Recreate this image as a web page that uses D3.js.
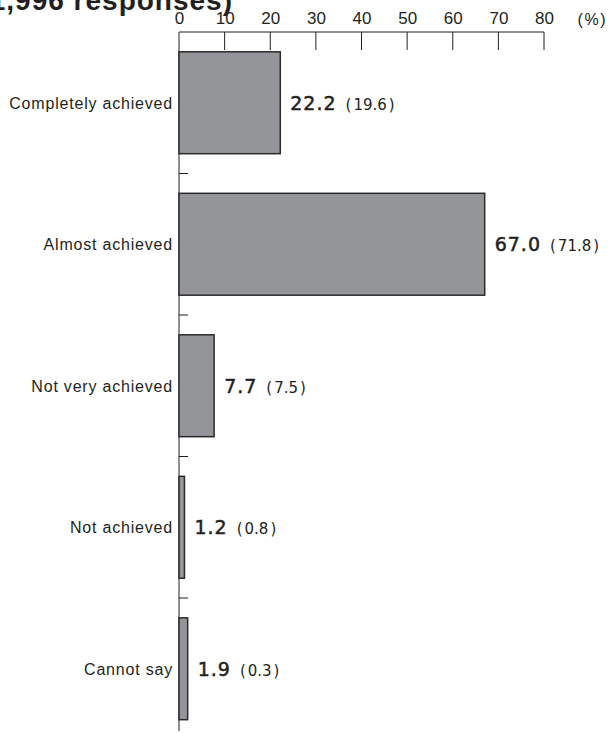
<!DOCTYPE html>
<html><head><meta charset="utf-8">
<script src="https://cdn.jsdelivr.net/npm/d3@7"></script>
<style>body{margin:0;background:#fff}svg{display:block;font-family:"Liberation Sans",Arial,sans-serif}</style>
</head><body><svg id="c" width="612" height="733"></svg>
<script>
const categories = ["Completely achieved","Almost achieved","Not very achieved","Not achieved","Cannot say"];
const values = [22.2, 67.0, 7.7, 1.2, 1.9];
const previous = ["19.6","71.8","7.5","0.8","0.3"];
const tickValues = [0,10,20,30,40,50,60,70,80];

const svg = d3.select("#c");
const ink = "#231f20";
const x = d3.scaleLinear().domain([0,80]).range([179,544]);
const y = d3.scaleBand().domain(categories).range([32,739.5]).paddingInner(0.28).paddingOuter(0.14);

// clipped title (only the lower part is visible, as in the reference)
svg.append("text").attr("x",233).attr("y",10).attr("text-anchor","end")
  .attr("font-size",28).attr("font-weight","bold").attr("letter-spacing",1)
  .attr("fill",ink).text("(Total: 1,996 responses)");

// top axis
const ax = svg.append("g").attr("transform","translate(0,32)");
ax.call(d3.axisTop(x).tickValues(tickValues).tickSize(0).tickPadding(8));
ax.select(".domain").remove();
ax.selectAll("text").attr("font-size",17).attr("fill",ink).attr("font-family","'Liberation Sans',Arial,sans-serif");
svg.append("line").attr("x1",x(0)).attr("x2",x(80)).attr("y1",32).attr("y2",32).attr("stroke",ink).attr("stroke-width",1.2);
svg.selectAll(".vt").data(tickValues.slice(1)).join("line")
  .attr("x1",d=>x(d)).attr("x2",d=>x(d)).attr("y1",32).attr("y2",50).attr("stroke",ink).attr("stroke-width",1);
svg.append("text").attr("x",607).attr("y",25).attr("text-anchor","end").attr("font-size",16)
  .attr("letter-spacing",1.5).attr("fill",ink).text("(%)");

// vertical axis
svg.append("line").attr("x1",x(0)).attr("x2",x(0)).attr("y1",32).attr("y2",731).attr("stroke","#444").attr("stroke-width",1.2);
// separators between categories
const gap = (y.step()-y.bandwidth())/2;
svg.selectAll(".sep").data(categories.slice(1)).join("line")
  .attr("x1",x(0)).attr("x2",x(0)+9)
  .attr("y1",d=>y(d)-gap).attr("y2",d=>y(d)-gap)
  .attr("stroke",ink).attr("stroke-width",1);

// bars
svg.selectAll(".bar").data(values).join("rect")
  .attr("x",x(0)).attr("y",(d,i)=>y(categories[i]))
  .attr("width",d=>x(d)-x(0)).attr("height",y.bandwidth())
  .attr("fill","#939598").attr("stroke","#2b2b2b").attr("stroke-width",1.5);

// category labels
svg.selectAll(".cat").data(categories).join("text")
  .attr("x",173).attr("y",d=>y(d)+y.bandwidth()/2+6).attr("text-anchor","end")
  .attr("font-size",16).attr("letter-spacing",0.8).attr("fill",ink).text(d=>d);

// value labels
const vl = svg.selectAll(".val").data(values).join("text")
  .attr("x",d=>x(d)+10).attr("y",(d,i)=>y(categories[i])+y.bandwidth()/2+7)
  .attr("fill",ink).attr("font-family","'DejaVu Sans',sans-serif");
vl.append("tspan").attr("font-size",19).attr("letter-spacing",1)
  .attr("stroke",ink).attr("stroke-width",0.5).text(d=>d.toFixed(1));
vl.append("tspan").attr("font-size",15).attr("dx",9).text("(");
vl.append("tspan").attr("font-size",15).attr("dx",2).text((d,i)=>previous[i]);
vl.append("tspan").attr("font-size",15).attr("dx",2).text(")");
</script></body></html>
